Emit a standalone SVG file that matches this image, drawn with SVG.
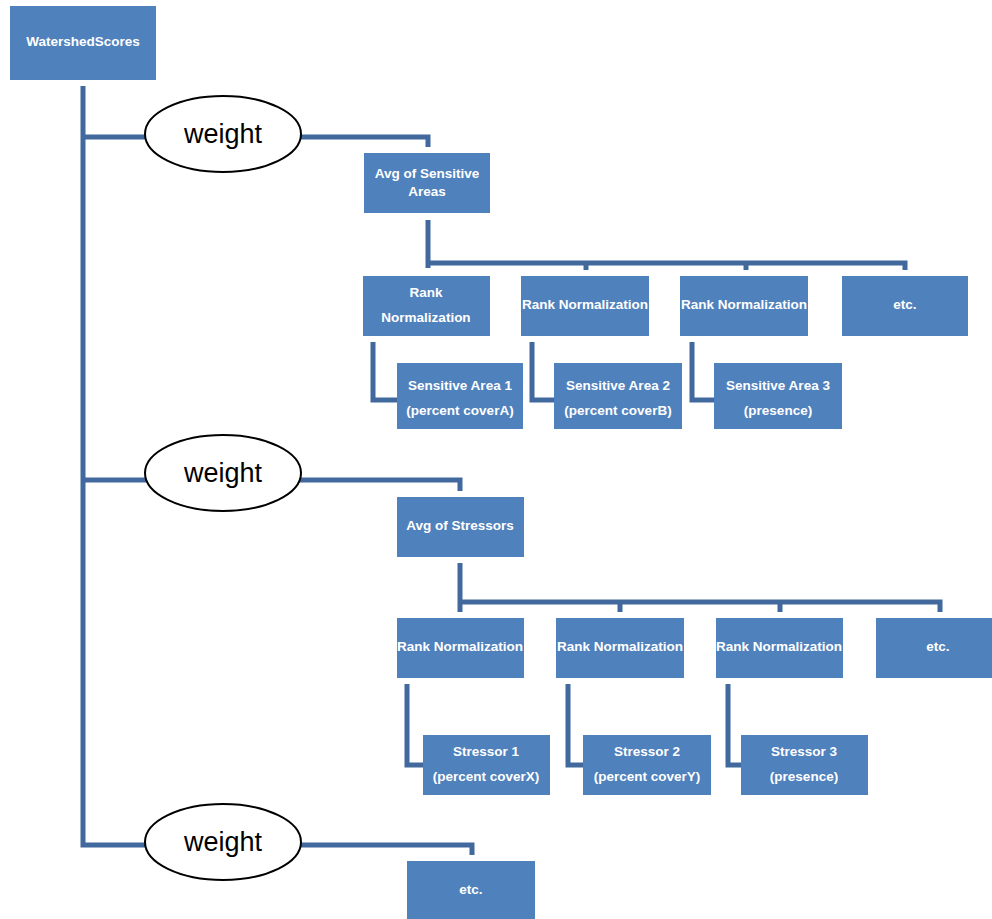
<svg xmlns="http://www.w3.org/2000/svg" width="992" height="919" viewBox="0 0 992 919">
<style>
.box{fill:#4F81BD}
.t{fill:#fff;font-family:"Liberation Sans",Arial,sans-serif;font-size:13.5px;font-weight:bold;text-anchor:middle}
.c{fill:none;stroke:#41699D;stroke-width:5}
.ell{fill:#fff;stroke:#000;stroke-width:2}
.w{fill:#000;font-family:"Liberation Sans",Arial,sans-serif;font-size:27px;text-anchor:middle}
</style>
<rect width="992" height="919" fill="#fff"/>
<g id="connectors">
<path class="c" d="M83,86 V845 H150"/>
<path class="c" d="M83,137 H150"/>
<path class="c" d="M83,480 H150"/>
<path class="c" d="M298,137 H428 V147"/>
<path class="c" d="M428,220 V268"/>
<path class="c" d="M428,263 H905 V270"/>
<path class="c" d="M586,263 V270"/>
<path class="c" d="M746,263 V270"/>
<path class="c" d="M373,342 V400 H397"/>
<path class="c" d="M532,342 V400 H554"/>
<path class="c" d="M692,342 V400 H714"/>
<path class="c" d="M298,480 H460 V491"/>
<path class="c" d="M460,563 V612"/>
<path class="c" d="M460,602 H940 V612"/>
<path class="c" d="M620,602 V612"/>
<path class="c" d="M780,602 V612"/>
<path class="c" d="M407,684 V765 H423"/>
<path class="c" d="M568,684 V765 H583"/>
<path class="c" d="M728,684 V765 H741"/>
<path class="c" d="M298,845 H472 V855"/>
</g>
<g id="watershed"><rect class="box" x="10" y="6" width="146" height="74"/><text class="t" x="83" y="46">WatershedScores</text></g>
<g id="weight1"><ellipse class="ell" cx="223" cy="134" rx="78" ry="38"/><text class="w" x="223" y="143">weight</text></g>
<g id="weight2"><ellipse class="ell" cx="223" cy="473" rx="78" ry="38"/><text class="w" x="223" y="482">weight</text></g>
<g id="weight3"><ellipse class="ell" cx="223" cy="842" rx="78" ry="38"/><text class="w" x="223" y="851">weight</text></g>
<g id="avgSensitive"><rect class="box" x="364" y="153" width="126" height="60"/><text class="t" x="427" y="178">Avg of Sensitive</text><text class="t" x="427" y="196">Areas</text></g>
<g id="rankS1"><rect class="box" x="363" y="276" width="127" height="60"/><text class="t" x="426" y="297">Rank</text><text class="t" x="426" y="322">Normalization</text></g>
<g id="rankS2"><rect class="box" x="521" y="276" width="128" height="60"/><text class="t" x="585" y="309">Rank Normalization</text></g>
<g id="rankS3"><rect class="box" x="680" y="276" width="128" height="60"/><text class="t" x="744" y="309">Rank Normalization</text></g>
<g id="etcS"><rect class="box" x="842" y="276" width="126" height="60"/><text class="t" x="905" y="309">etc.</text></g>
<g id="sa1"><rect class="box" x="397" y="363" width="126" height="66"/><text class="t" x="460" y="390">Sensitive Area 1</text><text class="t" x="460" y="415">(percent coverA)</text></g>
<g id="sa2"><rect class="box" x="554" y="363" width="128" height="66"/><text class="t" x="618" y="390">Sensitive Area 2</text><text class="t" x="618" y="415">(percent coverB)</text></g>
<g id="sa3"><rect class="box" x="714" y="363" width="128" height="66"/><text class="t" x="778" y="390">Sensitive Area 3</text><text class="t" x="778" y="415">(presence)</text></g>
<g id="avgStressors"><rect class="box" x="397" y="497" width="127" height="60"/><text class="t" x="460" y="530">Avg of Stressors</text></g>
<g id="rankT1"><rect class="box" x="397" y="618" width="127" height="60"/><text class="t" x="460" y="651">Rank Normalization</text></g>
<g id="rankT2"><rect class="box" x="556" y="618" width="128" height="60"/><text class="t" x="620" y="651">Rank Normalization</text></g>
<g id="rankT3"><rect class="box" x="716" y="618" width="127" height="60"/><text class="t" x="779" y="651">Rank Normalization</text></g>
<g id="etcT"><rect class="box" x="876" y="618" width="116" height="60"/><text class="t" x="938" y="651">etc.</text></g>
<g id="st1"><rect class="box" x="423" y="735" width="127" height="60"/><text class="t" x="486" y="756">Stressor 1</text><text class="t" x="486" y="781">(percent coverX)</text></g>
<g id="st2"><rect class="box" x="583" y="735" width="128" height="60"/><text class="t" x="647" y="756">Stressor 2</text><text class="t" x="647" y="781">(percent coverY)</text></g>
<g id="st3"><rect class="box" x="741" y="735" width="127" height="60"/><text class="t" x="804" y="756">Stressor 3</text><text class="t" x="804" y="781">(presence)</text></g>
<g id="etcBottom"><rect class="box" x="407" y="861" width="128" height="58"/><text class="t" x="471" y="894">etc.</text></g>
</svg>
